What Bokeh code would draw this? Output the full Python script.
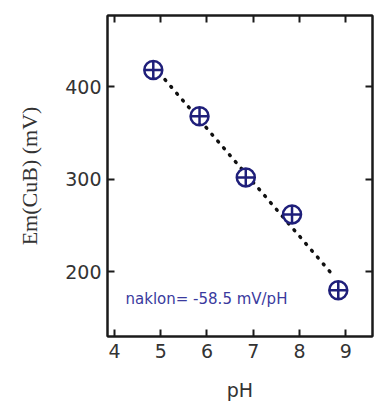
import numpy as np
from bokeh.plotting import figure
from bokeh.models import LinearAxis, FixedTicker, Label, ColumnDataSource, CustomLabelingPolicy
from bokeh.embed import file_html
from bokeh.resources import INLINE

# data
ph = [4.84, 5.84, 6.84, 7.84, 8.84]
em = [418, 368, 302, 262, 180]
fit_ph = [4.84, 8.74]
x_ticks = [4, 5, 6, 7, 8, 9]
y_ticks = [200, 300, 400]
slope_text = "naklon= -58.5 mV/pH"

slope, intercept = np.polyfit(ph, em, 1)
fit_em = [slope * v + intercept for v in fit_ph]

p = figure(width=377, height=410, output_backend="svg", toolbar_location=None,
           x_range=(3.85, 9.58), y_range=(130, 477),
           min_border_left=107, min_border_top=15, min_border_bottom=74, min_border_right=0,
           x_axis_label="pH", y_axis_label="Em(CuB) (mV)")
p.grid.visible = False
p.background_fill_color = "white"
p.border_fill_color = "white"
p.outline_line_color = "#1a1a1a"
p.outline_line_width = 2

for ax in (p.xaxis[0], p.yaxis[0]):
    ax.axis_line_width = 2
    ax.axis_line_color = "#1a1a1a"
    ax.major_tick_line_width = 2
    ax.major_tick_line_color = "#1a1a1a"
    ax.major_tick_in = 7
    ax.major_tick_out = 0
    ax.minor_tick_line_color = None
    ax.major_label_text_font = "DejaVu Sans"
    ax.major_label_text_font_size = "19px"
    ax.major_label_text_color = "#333333"

p.xaxis[0].ticker = FixedTicker(ticks=x_ticks)
p.yaxis[0].ticker = FixedTicker(ticks=y_ticks)
p.xaxis[0].major_label_standoff = 7
p.yaxis[0].major_label_standoff = 6
p.xaxis[0].axis_label_text_font = "DejaVu Sans"
p.xaxis[0].axis_label_text_font_size = "19px"
p.xaxis[0].axis_label_text_font_style = "normal"
p.xaxis[0].axis_label_text_color = "#333333"
p.xaxis[0].axis_label_standoff = 18
p.yaxis[0].axis_label_text_font = "Liberation Serif"
p.yaxis[0].axis_label_text_font_size = "22px"
p.yaxis[0].axis_label_text_font_style = "normal"
p.yaxis[0].axis_label_text_color = "#333333"
p.yaxis[0].axis_label_standoff = 20

hide_code = """
for (let i = 0; i < indices.size; i++) {
  if (typeof indices.unset === "function") { indices.unset(i) } else { indices.set(i, false) }
}
return indices
"""
top = LinearAxis(ticker=FixedTicker(ticks=x_ticks), major_label_policy=CustomLabelingPolicy(code=hide_code))
right = LinearAxis(ticker=FixedTicker(ticks=y_ticks), major_label_policy=CustomLabelingPolicy(code=hide_code))
for ax in (top, right):
    ax.axis_line_width = 2
    ax.axis_line_color = "#1a1a1a"
    ax.major_tick_line_width = 2
    ax.major_tick_line_color = "#1a1a1a"
    ax.major_tick_in = 7
    ax.major_tick_out = 0
    ax.minor_tick_line_color = None
    ax.major_label_standoff = 0
    ax.major_label_text_font_size = "1px"
    ax.axis_label_standoff = 0
p.add_layout(top, "above")
p.add_layout(right, "right")

p.line(fit_ph, fit_em, line_color="#111111", line_width=3.5, line_dash="1 8", line_cap="round")

src = ColumnDataSource(dict(x=ph, y=em))
p.scatter("x", "y", source=src, marker="circle_cross", size=18, line_width=2.5,
          line_color="#1f1f7a", fill_color="white")

p.add_layout(Label(x=4.24, y=171, text=slope_text, text_font="DejaVu Sans",
                   text_font_size="15px", text_color="#3a3a9e", text_baseline="alphabetic"))

open("out.html", "w").write(file_html(p, INLINE))
